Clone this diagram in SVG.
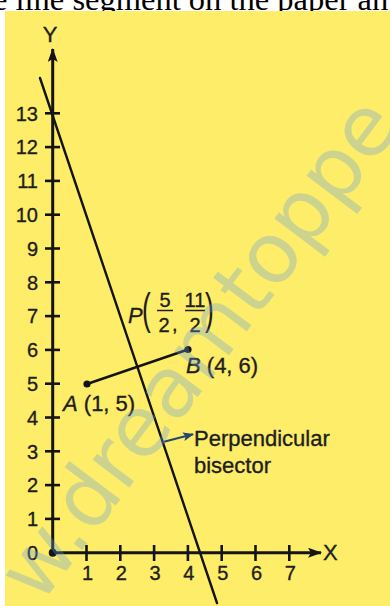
<svg xmlns="http://www.w3.org/2000/svg" width="390" height="606" viewBox="0 0 390 606">
  <defs>
    <marker id="axArrow" viewBox="0 0 14 10" refX="13" refY="5" markerWidth="14" markerHeight="10" markerUnits="userSpaceOnUse" orient="auto">
      <path d="M0,0 L14,5 L0,10 L3,5 Z" fill="#141414"/>
    </marker>
    <marker id="blueArrow" viewBox="0 0 10 8" refX="9" refY="4" markerWidth="11" markerHeight="9" markerUnits="userSpaceOnUse" orient="auto">
      <path d="M0,0 L10,4 L0,8 L2,4 Z" fill="#24476f"/>
    </marker>
  </defs>
  <style>
    .bg { fill: #fded68; }
    .ax { stroke: #141414; stroke-width: 3; fill: none; }
    .tick { stroke: #141414; stroke-width: 2.6; }
    .ln { stroke: #141414; stroke-width: 2.4; fill: none; stroke-linecap: round; }
    .num { font-family: "Liberation Sans", Arial, sans-serif; font-size: 20px; fill: #1e1e1e; stroke: #1e1e1e; stroke-width: 0.35; }
    .lab { font-family: "Liberation Sans", Arial, sans-serif; font-size: 22px; fill: #1e1e1e; stroke: #1e1e1e; stroke-width: 0.35; }
    .par { font-family: "Liberation Sans", Arial, sans-serif; font-size: 44px; fill: #1e1e1e; }
    .it { font-style: italic; }
    .dot { fill: #141414; }
    .wm { font-family: "DejaVu Sans", sans-serif; font-size: 84px; fill: #6a9ee0; fill-opacity: 0.33; }
  </style>

  <!-- page background -->
  <rect x="0" y="0" width="390" height="606" fill="#ffffff"/>
  <text x="-7" y="9.5" font-family="Liberation Serif, 'Times New Roman', serif" font-size="32.5" fill="#000000">e line segment on the paper an</text>
  <rect class="bg" x="5" y="11" width="385" height="595"/>

  <!-- axes -->
  <g id="axes">
    <line class="ax" x1="52.7" y1="552.7" x2="52.7" y2="49" marker-end="url(#axArrow)"/>
    <line class="ax" x1="52.7" y1="552.7" x2="321" y2="552.7" marker-end="url(#axArrow)"/>
    <circle class="dot" cx="52.7" cy="552.7" r="4"/>
    <text class="lab" x="50" y="41.5" text-anchor="middle">Y</text>
    <text class="lab" x="323" y="560">X</text>
  </g>

  <g id="y-ticks">
    <g class="tick">
      <line x1="45" y1="113.3" x2="60" y2="113.3"/>
      <line x1="45" y1="147.1" x2="60" y2="147.1"/>
      <line x1="45" y1="180.9" x2="60" y2="180.9"/>
      <line x1="45" y1="214.7" x2="60" y2="214.7"/>
      <line x1="45" y1="248.5" x2="60" y2="248.5"/>
      <line x1="45" y1="282.3" x2="60" y2="282.3"/>
      <line x1="45" y1="316.1" x2="60" y2="316.1"/>
      <line x1="45" y1="349.9" x2="60" y2="349.9"/>
      <line x1="45" y1="383.7" x2="60" y2="383.7"/>
      <line x1="45" y1="417.5" x2="60" y2="417.5"/>
      <line x1="45" y1="451.3" x2="60" y2="451.3"/>
      <line x1="45" y1="485.1" x2="60" y2="485.1"/>
      <line x1="45" y1="518.9" x2="60" y2="518.9"/>
    </g>
    <g class="num" text-anchor="end">
      <text x="38" y="120.5">13</text>
      <text x="38" y="154.3">12</text>
      <text x="38" y="188.1">11</text>
      <text x="38" y="221.9">10</text>
      <text x="38" y="255.7">9</text>
      <text x="38" y="289.5">8</text>
      <text x="38" y="323.3">7</text>
      <text x="38" y="357.1">6</text>
      <text x="38" y="390.9">5</text>
      <text x="38" y="424.7">4</text>
      <text x="38" y="458.5">3</text>
      <text x="38" y="492.3">2</text>
      <text x="38" y="526.1">1</text>
      <text x="38" y="559.9">0</text>
    </g>
  </g>

  <g id="x-ticks">
    <g class="tick">
      <line x1="86.5" y1="545" x2="86.5" y2="561"/>
      <line x1="120.3" y1="545" x2="120.3" y2="561"/>
      <line x1="154.1" y1="545" x2="154.1" y2="561"/>
      <line x1="187.9" y1="545" x2="187.9" y2="561"/>
      <line x1="221.7" y1="545" x2="221.7" y2="561"/>
      <line x1="255.5" y1="545" x2="255.5" y2="561"/>
      <line x1="289.3" y1="545" x2="289.3" y2="561"/>
    </g>
    <g class="num" text-anchor="middle">
      <text x="87.5" y="580">1</text>
      <text x="121.3" y="580">2</text>
      <text x="155.1" y="580">3</text>
      <text x="188.9" y="580">4</text>
      <text x="222.7" y="580">5</text>
      <text x="256.5" y="580">6</text>
      <text x="290.3" y="580">7</text>
    </g>
  </g>

  <!-- connectors -->
  <g id="connectors">
    <line id="bisector" class="ln" x1="40" y1="78" x2="217" y2="603"/>
    <line id="segment-AB" class="ln" x1="87" y1="384" x2="188" y2="349.5"/>
    <line id="label-arrow" x1="163" y1="442" x2="193" y2="434.3" stroke="#24476f" stroke-width="2.2" marker-end="url(#blueArrow)"/>
  </g>

  <g id="point-A">
    <circle class="dot" cx="87" cy="384" r="3.6"/>
    <text class="lab" x="63" y="411"><tspan class="it">A</tspan> (1, 5)</text>
  </g>

  <g id="point-B">
    <circle class="dot" cx="188" cy="349.5" r="3.6"/>
    <text class="lab" x="186" y="372.5"><tspan class="it">B</tspan> (4, 6)</text>
  </g>

  <g id="point-P">
    <text class="lab it" x="128" y="323.3">P</text>
    <text class="par" transform="translate(142,323.7) scale(0.6,1)">(</text>
    <text class="num" x="165" y="306.7" text-anchor="middle">5</text>
    <line x1="157" y1="310.5" x2="173" y2="310.5" stroke="#1e1e1e" stroke-width="1.5"/>
    <text class="num" x="164" y="331.7" text-anchor="middle">2</text>
    <text class="num" x="172" y="331">,</text>
    <text class="num" x="195" y="306.7" text-anchor="middle">11</text>
    <line x1="185" y1="310.5" x2="205" y2="310.5" stroke="#1e1e1e" stroke-width="1.5"/>
    <text class="num" x="195" y="331.7" text-anchor="middle">2</text>
    <text class="par" transform="translate(205,323.7) scale(0.6,1)">)</text>
  </g>

  <g id="bisector-label">
    <text class="lab" x="194" y="446">Perpendicular</text>
    <text class="lab" x="194" y="473">bisector</text>
  </g>

  <!-- watermark -->
  <text class="wm" transform="translate(40,606) rotate(-53)">w.dreamtoppe</text>
</svg>
